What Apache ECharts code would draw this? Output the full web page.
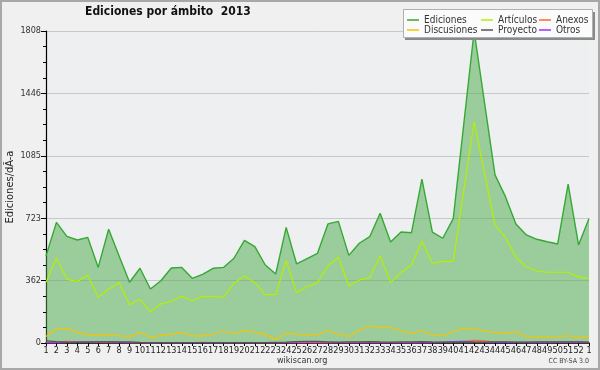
<!DOCTYPE html>
<html>
<head>
<meta charset="utf-8">
<script src="https://cdn.jsdelivr.net/npm/echarts@6/dist/echarts.min.js"></script>
<style>
html,body{margin:0;padding:0;background:#f0f0f0;}
#c{width:600px;height:370px;}
</style>
</head>
<body>
<div id="c"></div>
<script>
var categories = ['1','2','3','4','5','6','7','8','9','10','11','12','13','14','15','16','17','18','19','20','21','22','23','24','25','26','27','28','29','30','31','32','33','34','35','36','37','38','39','40','41','42','43','44','45','46','47','48','49','50','51','52','1'];
var ediciones = [504,699,618,597,612,438,659,504,352,433,313,361,435,438,375,398,433,438,491,595,558,452,400,670,458,489,520,690,705,508,578,616,752,585,643,639,949,643,607,721,1265,1808,1390,974,848,690,626,601,587,574,921,568,722];
var articulos = [352,491,369,357,392,267,311,350,222,253,181,226,243,270,245,270,270,265,346,388,350,280,280,477,292,326,350,446,497,330,365,379,504,350,410,452,591,462,473,473,880,1282,985,684,612,497,442,417,410,410,410,382,375];
var discusiones = [38,81,85,62,46,46,50,42,37,62,33,44,50,62,41,41,52,68,52,73,62,50,21,56,52,46,50,71,52,37,75,100,89,89,71,56,71,46,42,65,85,81,70,60,56,65,37,35,35,37,42,31,37];
var anexos = [3,5,9,6,4,3,2,2,3,2,1,2,2,2,3,4,2,2,2,2,2,2,2,3,3,3,2,2,3,4,4,5,4,3,3,2,2,2,3,5,8,15,12,5,4,3,2,3,2,3,5,3,2];
var proyecto = [12,8,5,4,5,6,6,7,6,4,3,3,3,3,3,3,3,3,3,3,3,3,4,5,8,10,9,7,5,6,7,8,6,5,6,7,8,6,5,4,5,4,5,6,6,5,5,6,7,7,6,6,5];
var otros = [1,1,4,6,6,7,6,4,1,0,0,0,0,0,0,0,0,0,0,0,0,0,0,0,0,0,0,0,0,0,0,0,0,0,0,1,2,3,5,8,10,6,4,4,4,4,4,4,4,5,5,5,4];
var yMax = 1808;
var yLabel = 'Ediciones/dÃ-a';
var titleText = 'Ediciones por ámbito  2013';

var F = '"DejaVu Sans Condensed", "DejaVu Sans", sans-serif';
var chart = echarts.init(document.getElementById('c'), null, {renderer:'canvas'});

function lineSeries(name, data, color, width, z) {
  return {
    name: name, type: 'line', data: data, showSymbol: false, symbol: 'none',
    lineStyle: {color: color, width: width}, itemStyle: {color: color},
    z: z, animation: false
  };
}
var legendCommon = {
  orient: 'vertical', top: 15, padding: 0, itemGap: 0,
  itemWidth: 12, itemHeight: 1.5, icon: 'rect', selectedMode: false,
  textStyle: {fontFamily: F, fontSize: 10, color: '#333', padding: [0,0,0,0], lineHeight: 9.5},
  z: 20
};
var eSeries = lineSeries('Ediciones', ediciones, '#36a836', 1.4, 2);
eSeries.areaStyle = {color: 'rgb(72,169,69)', opacity: 0.5, origin: 'start'};

var option = {
  backgroundColor: '#f0f0f0',
  animation: false,
  title: {
    text: titleText, left: 85, top: 6, padding: 0,
    textStyle: {fontFamily: F, fontSize: 12, fontWeight: 'bold', color: '#111'}
  },
  legend: [
    Object.assign({}, legendCommon, {left: 407, data: ['Ediciones','Discusiones']}),
    Object.assign({}, legendCommon, {left: 481, data: ['Artículos','Proyecto']}),
    Object.assign({}, legendCommon, {left: 539, data: ['Anexos','Otros']})
  ],
  grid: {left: 46, right: 11, top: 31, bottom: 27, show: true, backgroundColor: '#eeeff1', borderWidth: 0,
    containLabel: false, outerBoundsMode: 'none'},
  xAxis: {
    type: 'category', data: categories, boundaryGap: false,
    axisLine: {lineStyle: {color: '#000', width: 1.5}},
    axisTick: {show: true, length: 3, interval: 0, lineStyle: {color: '#000'}},
    axisLabel: {interval: 0, margin: 3, fontFamily: F, fontSize: 9, color: '#222'},
    splitLine: {show: false}
  },
  yAxis: {
    type: 'value', min: 0, max: yMax, interval: yMax / 5,
    name: yLabel, nameLocation: 'middle', nameGap: 30, nameRotate: 90, nameMoveOverlap: false,
    nameTextStyle: {fontFamily: F, fontSize: 11, color: '#222'},
    axisLine: {show: true, lineStyle: {color: '#000', width: 1.2}},
    axisTick: {show: true, length: 5, lineStyle: {color: '#000'}},
    minorTick: {show: true, splitNumber: 4, length: 3, lineStyle: {color: '#000'}},
    axisLabel: {margin: 5, fontFamily: F, fontSize: 9, color: '#333',
      formatter: function (v) { return String(Math.round(v)); }},
    splitLine: {show: true, lineStyle: {color: '#c8c8c8', width: 1}}
  },
  series: [
    eSeries,
    lineSeries('Artículos', articulos, '#b4f000', 1.2, 3),
    lineSeries('Anexos', anexos, '#ff6a1a', 1.2, 3),
    lineSeries('Discusiones', discusiones, '#f5c400', 1.2, 3),
    lineSeries('Otros', otros, '#9933ff', 1.2, 3),
    lineSeries('Proyecto', proyecto, '#555555', 1.2, 3)
  ],
  graphic: [
    {type: 'rect', z: 100, silent: true, shape: {x: 1, y: 1, width: 598, height: 368},
      style: {fill: 'none', stroke: '#a8a8a8', lineWidth: 2}},
    {type: 'rect', z: 18, silent: true, shape: {x: 405, y: 12, width: 190, height: 28},
      style: {fill: '#8a8a8a'}},
    {type: 'rect', z: 19, silent: true, shape: {x: 403.5, y: 9.5, width: 189, height: 28},
      style: {fill: '#fbfbfb', stroke: '#b0b0b0', lineWidth: 1}},
    {type: 'text', z: 20, left: 277, top: 356, silent: true,
      style: {text: 'wikiscan.org', fontFamily: F, fontSize: 9, fill: '#333'}},
    {type: 'text', z: 20, right: 11, top: 358, silent: true,
      style: {text: 'CC BY-SA 3.0', fontFamily: F, fontSize: 7, fill: '#444'}}
  ]
};
chart.setOption(option);
</script>
</body>
</html>
